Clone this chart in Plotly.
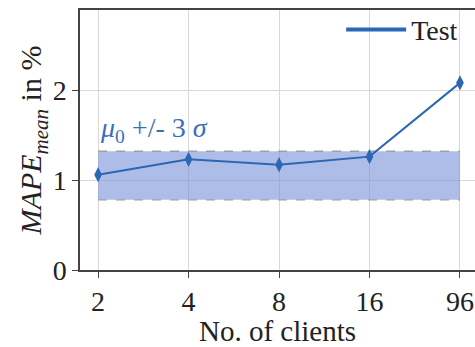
import plotly.graph_objects as go

clients = ["2", "4", "8", "16", "96"]
mape_test = [1.06, 1.23, 1.17, 1.26, 2.08]
band_lower = [0.78, 0.78, 0.78, 0.78, 0.78]
band_upper = [1.32, 1.32, 1.32, 1.32, 1.32]
y_ticks = [0, 1, 2]

xi = list(range(len(clients)))
FONT = "Liberation Serif, Times New Roman, serif"
BLUE = "#2b67b3"

fig = go.Figure()
fig.add_trace(go.Scatter(x=xi, y=band_lower, mode="lines",
                         line=dict(color="#a0a0a0", width=1.3, dash="dash"),
                         showlegend=False, hoverinfo="skip"))
fig.add_trace(go.Scatter(x=xi, y=band_upper, mode="lines", fill="tonexty",
                         fillcolor="rgba(120,145,215,0.6)",
                         line=dict(color="#a0a0a0", width=1.3, dash="dash"),
                         showlegend=False, hoverinfo="skip"))
fig.add_trace(go.Scatter(x=xi, y=mape_test, mode="lines+markers", name="Test",
                         line=dict(color=BLUE, width=2), showlegend=False,
                         marker=dict(symbol="diamond-tall", size=11, color=BLUE)))
# legend entry (line only, as in the reference)
fig.add_trace(go.Scatter(x=[None], y=[None], mode="lines", name="Test",
                         line=dict(color=BLUE, width=4)))

fig.add_annotation(x=0, y=1.35, xref="x", yref="y", xanchor="left", yanchor="bottom",
                   text="<i>μ</i><sub>0</sub> +/- 3 <i>σ</i>", showarrow=False,
                   font=dict(family=FONT, size=28, color="#3a70b8"))

fig.update_layout(
    width=475, height=347,
    margin=dict(l=80, r=0, t=10, b=77, autoexpand=False),
    paper_bgcolor="white", plot_bgcolor="white",
    font=dict(family=FONT, size=28, color="#222"),
    legend=dict(x=0.97, y=1.02, xanchor="right", yanchor="top",
                bgcolor="rgba(255,255,255,0)", font=dict(size=28),
                itemwidth=60),
)
fig.update_xaxes(range=[-0.2, 4.166], tickvals=xi, ticktext=clients,
                 showgrid=True, gridcolor="#d8d8d8", gridwidth=1,
                 showline=True, linecolor="#444", linewidth=1.5, mirror=True,
                 ticks="outside", ticklen=6, tickcolor="#444",
                 zeroline=False, automargin=False,
                 title=dict(text="No. of clients", font=dict(size=29), standoff=0))
fig.update_yaxes(range=[0, 2.89], tickvals=y_ticks,
                 showgrid=True, gridcolor="#d8d8d8", gridwidth=1,
                 showline=True, linecolor="#444", linewidth=1.5,
                 ticks="outside", ticklen=6, tickcolor="#444",
                 zeroline=False, automargin=False,
                 title=dict(text="<i>MAPE<sub>mean</sub></i> in %", font=dict(size=30), standoff=0))

fig.write_html("out.html", config={"displayModeBar": False},
               post_script="document.body.style.margin='0';document.body.style.overflow='hidden';")
